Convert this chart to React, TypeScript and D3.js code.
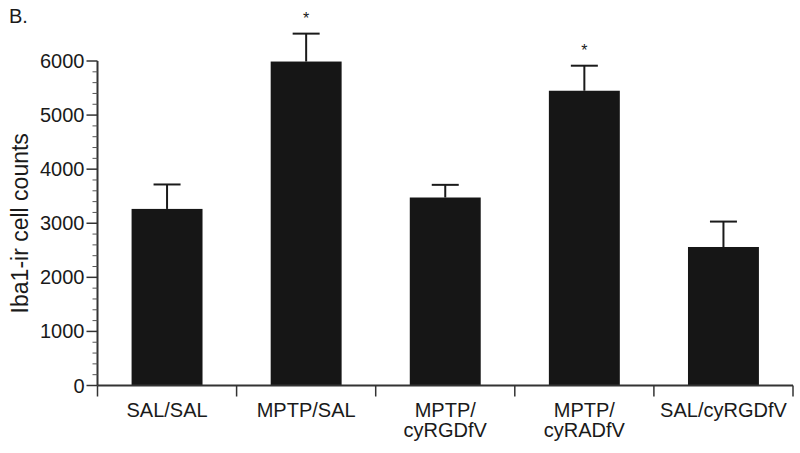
import React from "react";
import * as d3 from "d3";

const categories = ["SAL/SAL", "MPTP/SAL", "MPTP/\ncyRGDfV", "MPTP/\ncyRADfV", "SAL/cyRGDfV"];
const means = [3265, 5990, 3476, 5450, 2561];
const errors = [452, 516, 234, 463, 470];
const significant = [false, true, false, true, false];
const yTicks = [0, 1000, 2000, 3000, 4000, 5000, 6000];

export default function App() {
  const W = 800, H = 453;
  const x0 = 97.5, x1 = 793;
  const yBase = 385.5, yTop = 61;
  const x = d3.scaleBand<string>().domain(categories).range([x0, x1]).paddingInner(0).paddingOuter(0);
  const y = d3.scaleLinear().domain([0, 6000]).range([yBase, yTop]);
  const minor = d3.range(0, 6001, 200).filter((v) => v % 1000 !== 0);
  const barW = x.bandwidth() * 0.51;
  const capW = 27;
  const font = "Liberation Sans, Arial, sans-serif";
  return (
    <svg width={W} height={H} style={{ position: "absolute", left: 0, top: 0, background: "#fff" }}>
      <text x={9} y={23} fontFamily={font} fontSize={20} fill="#1a1a1a">B.</text>
      {categories.map((c, i) => {
        const cx = x(c)! + x.bandwidth() / 2;
        const top = y(means[i]);
        const cap = y(means[i] + errors[i]);
        return (
          <g key={c}>
            <line x1={cx} x2={cx} y1={top} y2={cap} stroke="#1a1a1a" strokeWidth={2} />
            <line x1={cx - capW / 2} x2={cx + capW / 2} y1={cap} y2={cap} stroke="#1a1a1a" strokeWidth={2} />
            <rect x={cx - barW / 2} y={top} width={barW} height={yBase - top} fill="#161616" />
            {significant[i] && (
              <text x={cx} y={cap - 10} textAnchor="middle" fontFamily={font} fontSize={16} fill="#1a1a1a">*</text>
            )}
            {c.split("\n").map((line, j) => (
              <text key={j} x={cx} y={417 + j * 20} textAnchor="middle" fontFamily={font} fontSize={20} fill="#1a1a1a">{line}</text>
            ))}
          </g>
        );
      })}
      {/* y axis */}
      <line x1={x0} x2={x0} y1={yTop} y2={yBase} stroke="#333" strokeWidth={2} />
      {minor.map((v) => (
        <line key={v} x1={x0 - 5} x2={x0} y1={y(v)} y2={y(v)} stroke="#555" strokeWidth={1} />
      ))}
      {yTicks.map((v) => (
        <g key={v}>
          <line x1={x0 - 11} x2={x0} y1={y(v)} y2={y(v)} stroke="#333" strokeWidth={1.5} />
          <text x={x0 - 13} y={y(v) + 7} textAnchor="end" fontFamily={font} fontSize={20} fill="#1a1a1a">{v}</text>
        </g>
      ))}
      {/* x axis */}
      <line x1={x0} x2={x1} y1={yBase} y2={yBase} stroke="#333" strokeWidth={2} />
      {[...categories.map((c) => x(c)!), x1].map((v, i) => (
        <line key={i} x1={v} x2={v} y1={yBase} y2={yBase + 11} stroke="#333" strokeWidth={1.5} />
      ))}
      <text transform={`translate(28, ${(yTop + yBase) / 2}) rotate(-90)`} textAnchor="middle" fontFamily={font} fontSize={23} fill="#1a1a1a">Iba1-ir cell counts</text>
    </svg>
  );
}
